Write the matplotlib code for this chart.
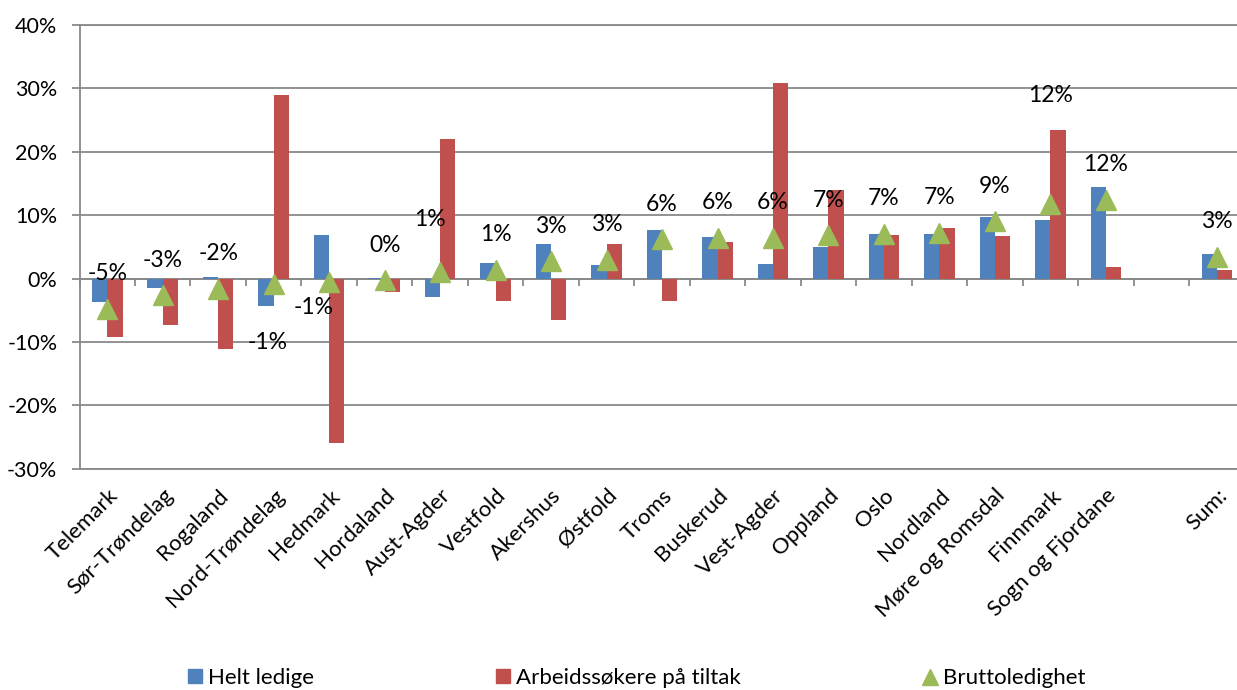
import numpy as np
import matplotlib.pyplot as plt
from matplotlib.lines import Line2D
from matplotlib.patches import Patch

plt.rcParams['font.family'] = ['Lato', 'DejaVu Sans']

fylker = ["Telemark", "Sør-Trøndelag", "Rogaland", "Nord-Trøndelag", "Hedmark",
          "Hordaland", "Aust-Agder", "Vestfold", "Akershus", "Østfold", "Troms",
          "Buskerud", "Vest-Agder", "Oppland", "Oslo", "Nordland",
          "Møre og Romsdal", "Finnmark", "Sogn og Fjordane", "", "Sum:"]

helt_ledige = [-3.7, -1.5, 0.3, -4.4, 6.8, 0.1, -2.95, 2.5, 5.4, 2.2, 7.6,
               6.5, 2.3, 5.0, 7.05, 6.95, 9.7, 9.3, 14.4, np.nan, 3.8]
tiltak = [-9.3, -7.3, -11.1, 28.9, -26.0, -2.05, 22.0, -3.6, -6.6, 5.5, -3.5,
          5.7, 30.8, 13.9, 6.8, 7.9, 6.7, 23.5, 1.8, np.nan, 1.4]
brutto = [-4.8, -2.6, -1.6, -0.8, -0.6, -0.3, 1.1, 1.4, 2.7, 3.0, 6.2,
          6.4, 6.4, 6.8, 7.05, 7.2, 9.05, 11.7, 12.4, np.nan, 3.4]

# label offsets in pixels (dx, dy), default is straight above the marker
label_offset = {"Nord-Trøndelag": (-6, -59), "Hedmark": (-16, -25),
                "Aust-Agder": (-10, 52), "Finnmark": (0, 109)}

blue = "#4F81BD"
red = "#C0504D"
green = "#9BBB59"
grid = "#898989"

fig = plt.figure(figsize=(12.37, 6.90), dpi=100)
ax = fig.add_axes([0.0643, 0.3207, 0.9418, 0.6431])

x = np.arange(len(fylker))
w = 0.275
ax.bar(x - w / 2, helt_ledige, w, color=blue, zorder=2)
ax.bar(x + w / 2, tiltak, w, color=red, zorder=2)
ax.plot(x, brutto, linestyle='none', marker='^', markersize=15,
        color=green, zorder=3)

for i, v in enumerate(brutto):
    if np.isnan(v):
        continue
    dx, dy = label_offset.get(fylker[i], (0, 35))
    ax.annotate(f"{int(round(v))}%", (x[i], v), xytext=(dx, dy),
                textcoords='offset pixels', ha='center', va='center',
                fontsize=16.5, zorder=4)

ax.set_xlim(-0.5, len(fylker) - 0.5)
ax.set_ylim(-30, 40)
ax.set_yticks(range(-30, 41, 10))
ax.set_yticklabels([f"{t}%" for t in range(-30, 41, 10)])
ax.yaxis.grid(True, color=grid, linewidth=1.3, zorder=0)
ax.set_axisbelow(True)

ax.set_xticks(x)
ax.set_xticklabels(fylker, rotation=45, ha='right', rotation_mode='anchor')
ax.tick_params(axis='x', length=0, pad=12, labelsize=16)
ax.tick_params(axis='y', length=6, width=1.3, color=grid, pad=10, labelsize=15.5)

for s in ['top', 'bottom']:
    ax.spines[s].set_color(grid)
    ax.spines[s].set_linewidth(1.3)
ax.spines['right'].set_visible(False)
ax.spines['left'].set_color(grid)
ax.spines['left'].set_linewidth(1.3)

# category axis crosses at 0 with tick marks between categories
zero_axis = ax.secondary_xaxis(3 / 7)
zero_axis.set_xticks(np.arange(-0.5, len(fylker), 1.0))
zero_axis.set_xticklabels([])
zero_axis.tick_params(length=5, width=1.3, color=grid, direction='out')
zero_axis.spines['bottom'].set_color(grid)
zero_axis.spines['bottom'].set_linewidth(1.3)

handles = [Patch(color=blue, label="Helt ledige"),
           Patch(color=red, label="Arbeidssøkere på tiltak"),
           Line2D([], [], linestyle='none', marker='^', markersize=12,
                  color=green, label="Bruttoledighet")]
fig.legend(handles=handles, loc='center', bbox_to_anchor=(0.515, 0.017),
           ncol=3, frameon=False, fontsize=16, columnspacing=8.2,
           handlelength=0.6, handleheight=0.6, handletextpad=0.3)

fig.savefig("out.png", dpi=100)
